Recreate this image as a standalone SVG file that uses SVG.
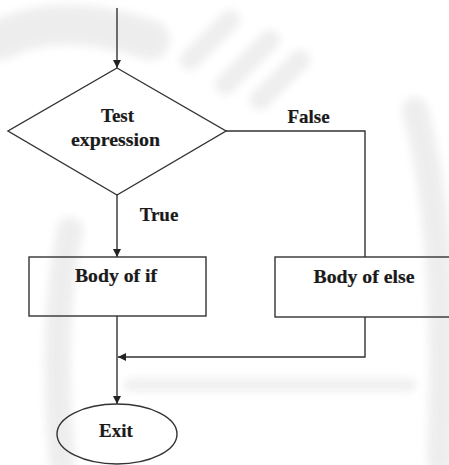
<svg xmlns="http://www.w3.org/2000/svg" width="449" height="465" viewBox="0 0 449 465">
  <style>
    .shape { fill: none; stroke: #333; stroke-width: 1.4; }
    .wire { fill: none; stroke: #333; stroke-width: 1.4; }
    .label { font-family: "Liberation Serif", "Times New Roman", serif; font-weight: bold; font-size: 19px; fill: #1a1a1a; text-anchor: middle; stroke: #1a1a1a; stroke-width: 0.2; }
    .mark { fill: none; stroke: #ececec; stroke-linecap: round; }
  </style>
  <defs>
    <marker id="arrow" viewBox="0 0 10 10" refX="10" refY="5" markerWidth="8" markerHeight="8" markerUnits="userSpaceOnUse" orient="auto">
      <path d="M0,0 L10,5 L0,10 Z" fill="#222"/>
    </marker>
    <filter id="soft" x="-20%" y="-20%" width="140%" height="140%">
      <feGaussianBlur stdDeviation="4"/>
    </filter>
  </defs>

  <rect width="449" height="465" fill="#fff"/>

  <!-- faint background seal -->
  <g filter="url(#soft)" opacity="0.9">
    <path class="mark" stroke-width="26" d="M62,460 C55,380 55,300 70,230"/>
    <path class="mark" stroke-width="26" d="M415,110 C440,200 445,330 440,460"/>
    <path class="mark" stroke-width="40" d="M0,40 C40,20 90,20 150,40"/>
    <path class="mark" stroke-width="20" d="M190,60 L230,20 M225,85 L270,40 M260,100 L300,60"/>
    <path class="mark" stroke-width="12" d="M130,385 L410,385"/>
  </g>

  <!-- connectors -->
  <g id="connectors">
    <line class="wire" x1="117" y1="8" x2="117" y2="68" marker-end="url(#arrow)"/>
    <line class="wire" x1="117" y1="195" x2="117" y2="257" marker-end="url(#arrow)"/>
    <polyline class="wire" points="226,131 365,131 365,257"/>
    <polyline class="wire" points="365,317 365,357 118,357" marker-end="url(#arrow)"/>
    <line class="wire" x1="117" y1="316" x2="117" y2="404" marker-end="url(#arrow)"/>
    <text class="label" x="308.5" y="123">False</text>
    <text class="label" x="159" y="221">True</text>
  </g>

  <!-- decision -->
  <g id="test">
    <polygon class="shape" points="117,68 226,131 117,195 8,131"/>
    <text class="label" x="117.5" y="122">Test</text>
    <text class="label" x="115.5" y="146" textLength="89" lengthAdjust="spacingAndGlyphs">expression</text>
  </g>

  <!-- true branch -->
  <g id="body-if">
    <rect class="shape" x="29" y="257" width="177" height="59"/>
    <text class="label" x="116" y="282" textLength="82" lengthAdjust="spacingAndGlyphs">Body of if</text>
  </g>

  <!-- false branch -->
  <g id="body-else">
    <rect class="shape" x="275" y="257" width="185" height="60"/>
    <text class="label" x="364" y="283" textLength="101" lengthAdjust="spacingAndGlyphs">Body of else</text>
  </g>

  <!-- terminal -->
  <g id="exit">
    <ellipse class="shape" cx="117" cy="434" rx="60" ry="30"/>
    <text class="label" x="116" y="437">Exit</text>
  </g>
</svg>
